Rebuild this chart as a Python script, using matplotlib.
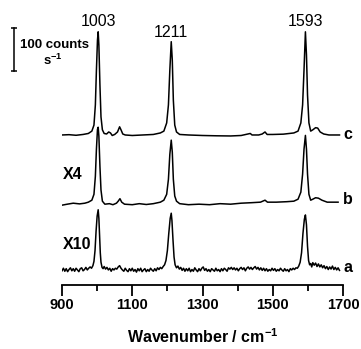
import matplotlib.pyplot as plt

plt.rcParams['font.family'] = 'Liberation Sans'
plt.rcParams['mathtext.fontset'] = 'custom'
plt.rcParams['mathtext.rm'] = 'Liberation Sans'
plt.rcParams['mathtext.bf'] = 'Liberation Sans:bold'

# spectrum c: wavenumber (cm-1) and intensity above its own baseline (counts s-1)
wn_c = [900, 920, 940, 960, 975, 985, 991, 995, 998, 1001, 1003, 1005, 1008, 1011, 1015, 1020,
        1027, 1033, 1038, 1043, 1050, 1058, 1064, 1068, 1073, 1080, 1100, 1130, 1160, 1180, 1190,
        1198, 1203, 1207, 1211, 1214, 1217, 1221, 1226, 1235, 1260, 1300, 1340, 1380, 1410, 1436,
        1441, 1460, 1470, 1478, 1484, 1500, 1530, 1560, 1572, 1580, 1585, 1589, 1593, 1596, 1599,
        1603, 1608, 1614, 1622, 1628, 1635, 1645, 1660, 1690]
int_c = [0, 0.7, -0.7, 1.2, 3.5, 9, 23, 70, 151, 221, 240, 209, 116, 42, 12, 3.5,
         2.3, 7, 4.7, -1.2, 1.2, 7, 19, 12, 2.3, 0, -1.2, 0, 1.2, 4.7, 9,
         28, 70, 151, 217, 174, 81, 23, 7, 1.2, 0, -1.2, -1.9, -2.3, -1.2, 3.5,
         0, 0, 2.3, 7, 1.2, 1.2, 1.9, 4.7, 9, 28, 70, 151, 240, 186, 93,
         28, 9, 12, 17, 16, 7, 2.3, 0, 0]

# spectrum b, shown x4
wn_b = [900, 915, 932, 950, 965, 975, 985, 991, 995, 998, 1001, 1003, 1005, 1008, 1011, 1015,
        1022, 1035, 1045, 1055, 1060, 1065, 1070, 1078, 1100, 1120, 1140, 1160, 1180, 1190, 1198,
        1203, 1207, 1211, 1214, 1217, 1221, 1226, 1235, 1260, 1290, 1320, 1350, 1380, 1410, 1440,
        1465, 1478, 1485, 1510, 1540, 1560, 1572, 1580, 1585, 1589, 1593, 1596, 1599, 1603, 1608,
        1614, 1622, 1630, 1640, 1655, 1670, 1686]
int_b = [-2.3, 0, 2.3, 0.7, 2.3, 4.7, 9.3, 23, 65, 128, 174, 179, 158, 88, 33, 7,
         0, 1.2, -1.2, 2.3, 7, 12.8, 4.7, 0, -1.2, 1.2, -0.7, 1.2, 4.7, 9.3, 23,
         58, 116, 149, 121, 58, 19, 7, 1.2, -1.2, 0, -1.2, 1.2, 0, 2.3, 3.5,
         4.7, 9.3, 4.7, 4.7, 5.8, 7, 11.6, 28, 70, 128, 160, 128, 70, 23, 9.3,
         11.6, 15, 14, 9.3, 4.7, 4.7, 4.7]

# spectrum a, shown x10 (noisy)
wn_a = [900, 904, 908, 912, 916, 920, 924, 928, 932, 936, 940, 944, 948, 952, 956, 960, 964, 968,
        972, 976, 980, 984, 988, 991, 994, 997, 1000, 1003, 1005, 1007, 1009, 1011, 1014, 1017,
        1020, 1024, 1028, 1032, 1036, 1040, 1044, 1048, 1052, 1056, 1060, 1064, 1068, 1072, 1076,
        1080, 1084, 1088, 1092, 1096, 1100, 1104, 1108, 1112, 1116, 1120, 1124, 1128, 1132, 1136,
        1140, 1144, 1148, 1152, 1156, 1160, 1164, 1168, 1172, 1176, 1180, 1184, 1188, 1192, 1196,
        1200, 1204, 1208, 1211, 1213, 1216, 1219, 1222, 1226, 1230, 1234, 1238, 1242, 1246, 1250,
        1254, 1258, 1262, 1266, 1270, 1274, 1278, 1282, 1286, 1290, 1294, 1298, 1302, 1306, 1310,
        1314, 1318, 1322, 1326, 1330, 1334, 1338, 1342, 1346, 1350, 1354, 1358, 1362, 1366, 1370,
        1374, 1378, 1382, 1386, 1390, 1394, 1398, 1402, 1406, 1410, 1414, 1418, 1422, 1426, 1430,
        1434, 1438, 1442, 1446, 1450, 1454, 1458, 1462, 1466, 1470, 1474, 1478, 1482, 1486, 1490,
        1494, 1498, 1502, 1506, 1510, 1514, 1518, 1522, 1526, 1530, 1534, 1538, 1542, 1546, 1550,
        1554, 1558, 1562, 1566, 1570, 1574, 1578, 1582, 1586, 1590, 1593, 1596, 1599, 1602, 1605,
        1608, 1611, 1614, 1618, 1622, 1626, 1630, 1634, 1638, 1642, 1646, 1650, 1654, 1658, 1662,
        1666, 1670, 1674, 1678, 1682, 1686, 1690]
int_a = [-2, 4, -3, 3, -4, 1, 5, -2, 3, -3, 4, 0, -4, 3, 5, -2, 1, 6,
         0, 4, 7, 4, 10, 20, 45, 90, 125, 140, 120, 80, 40, 18, 6, 3,
         8, 2, 6, 0, 4, -3, 3, 0, 4, 2, 7, 10, 4, 0, -3,
         4, -1, -4, 3, -2, 4, -3, 1, -5, 3, -2, 4, -4, 0, 3,
         -4, 1, -3, 4, 0, -3, 3, -2, 5, 1, 6, 3, 8, 12, 22,
         45, 85, 120, 132, 115, 70, 30, 12, 5, 9, 2, 6, -1, 4, -3,
         3, -2, 4, -4, 1, -3, 5, 0, -4, 3, -2, 4, 7, -1, 3,
         -3, 1, -4, 3, 0, -3, 4, -2, 1, -4, 3, -2, 4, 1, -3,
         5, 2, 6, 1, 5, 0, 4, -2, 3, 6, 1, 5, -2, 4, 7,
         2, 6, 1, 5, 8, 2, 6, 0, 5, -1, 4, -2, 3, -3, 1,
         -2, 4, -1, 3, -3, 1, -2, 4, 0, -3, 3, -2, 1, -4, 3,
         0, 4, 1, 5, 4, 9, 18, 40, 85, 118, 128, 105, 55, 22, 12,
         15, 7, 17, 11, 16, 8, 14, 7, 12, 5, 10, 3, 8, 1, 7,
         2, 9, 1, 6, 0, 5, -1]

# vertical offsets of the three traces (counts s-1)
offset_c = 349
offset_b = 188
offset_a = 35

peak_labels = ['1003', '1211', '1593']
peak_pos = [1003, 1211, 1593]

fig = plt.figure(figsize=(3.61, 3.49), dpi=100)
ax = fig.add_axes([62 / 361, 64 / 349, 281 / 361, 285 / 349])

ax.plot(wn_c, [v + offset_c for v in int_c], color='black', lw=1.1)
ax.plot(wn_b, [v + offset_b for v in int_b], color='black', lw=1.1)
ax.plot(wn_a, [v + offset_a for v in int_a], color='black', lw=1.1)

ax.set_xlim(900, 1700)
ax.set_ylim(0, 663)

for s in ['left', 'top', 'right']:
    ax.spines[s].set_visible(False)
ax.spines['bottom'].set_linewidth(1.3)
ax.set_yticks([])
ax.set_xticks(range(900, 1701, 200))
ax.set_xticks(range(1000, 1700, 200), minor=True)
ax.tick_params(axis='x', which='major', direction='out', length=8, width=1.3, labelsize=10.5, pad=1.5)
ax.tick_params(axis='x', which='minor', direction='out', length=4, width=1.3)
for lbl in ax.get_xticklabels():
    lbl.set_fontweight('bold')
ax.set_xlabel(r'Wavenumber / $\mathbf{cm^{-1}}$', fontsize=11.5, fontweight='bold', labelpad=11)

# peak positions
ax.text(peak_pos[0], 612, peak_labels[0], ha='center', va='center', fontsize=11.5)
ax.text(peak_pos[1], 588, peak_labels[1], ha='center', va='center', fontsize=11.5)
ax.text(peak_pos[2], 614, peak_labels[2], ha='center', va='center', fontsize=11.5)

# trace labels
ax.text(1701, 351, 'c', ha='left', va='center', fontsize=11.5, fontweight='bold', clip_on=False)
ax.text(1701, 198, 'b', ha='left', va='center', fontsize=11.5, fontweight='bold', clip_on=False)
ax.text(1701, 40, 'a', ha='left', va='center', fontsize=11.5, fontweight='bold', clip_on=False)
ax.text(903, 258, 'X4', ha='left', va='center', fontsize=11.5, fontweight='bold')
ax.text(903, 94, 'X10', ha='left', va='center', fontsize=11.5, fontweight='bold')

# scale bar: 100 counts s-1
ax.plot([763, 763], [498, 598], color='black', lw=1.1, clip_on=False)
ax.plot([763, 763], [498, 598], ls='none', marker='_', ms=5, mew=1.1, color='black', clip_on=False)
ax.text(780, 558, '100 counts', ha='left', va='center', fontsize=9.5, fontweight='bold')
ax.text(874, 523, r'$\mathbf{s^{-1}}$', ha='center', va='center', fontsize=9.5)

plt.savefig('out.png', dpi=100)
